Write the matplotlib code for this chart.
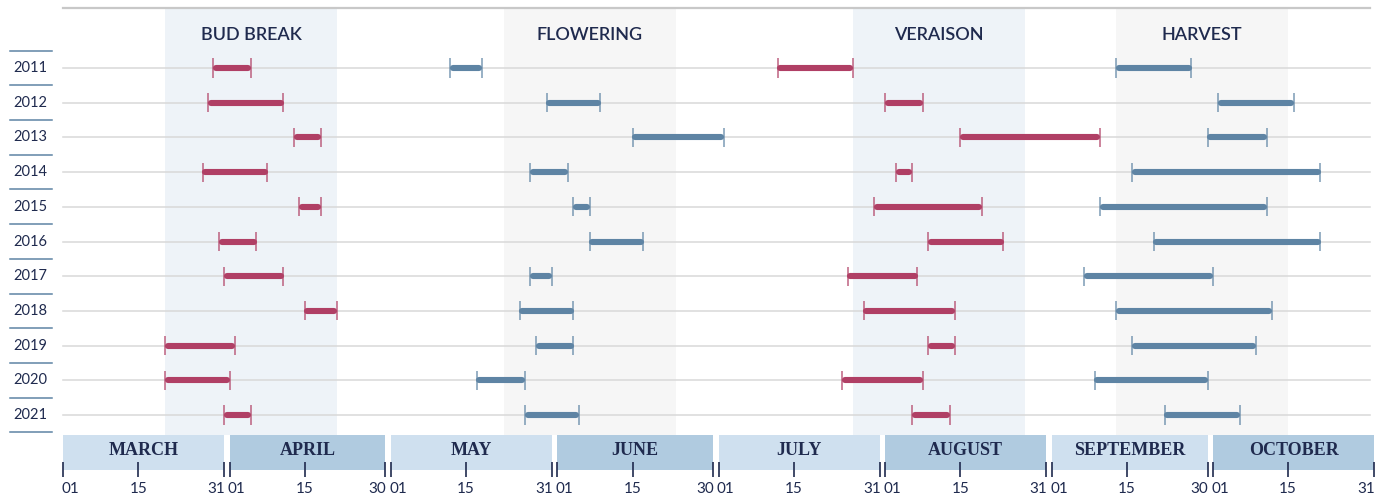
import pandas as pd
import matplotlib.pyplot as plt
from matplotlib.patches import Rectangle

# phenology dates (month-day), one tuple (start, end) per year
years = [2011, 2012, 2013, 2014, 2015, 2016, 2017, 2018, 2019, 2020, 2021]
bud_break = [("03-29", "04-05"), ("03-28", "04-11"), ("04-13", "04-18"), ("03-27", "04-08"),
             ("04-14", "04-18"), ("03-30", "04-06"), ("03-31", "04-11"), ("04-15", "04-21"),
             ("03-20", "04-02"), ("03-20", "04-01"), ("03-31", "04-05")]
flowering = [("05-12", "05-18"), ("05-30", "06-09"), ("06-15", "07-02"), ("05-27", "06-03"),
             ("06-04", "06-07"), ("06-07", "06-17"), ("05-27", "05-31"), ("05-25", "06-04"),
             ("05-28", "06-04"), ("05-17", "05-26"), ("05-26", "06-05")]
veraison = [("07-12", "07-26"), ("08-01", "08-08"), ("08-15", "09-10"), ("08-03", "08-06"),
            ("07-30", "08-19"), ("08-09", "08-23"), ("07-25", "08-07"), ("07-28", "08-14"),
            ("08-09", "08-14"), ("07-24", "08-08"), ("08-06", "08-13")]
harvest = [("09-13", "09-27"), ("10-02", "10-16"), ("09-30", "10-11"), ("09-16", "10-21"),
           ("09-10", "10-11"), ("09-20", "10-21"), ("09-07", "10-01"), ("09-13", "10-12"),
           ("09-16", "10-09"), ("09-09", "09-30"), ("09-22", "10-06")]

phases = ["BUD BREAK", "FLOWERING", "VERAISON", "HARVEST"]
phase_windows = [("03-20", "04-21"), ("05-22", "06-23"), ("07-26", "08-27"), ("09-13", "10-15")]

months = ["MARCH", "APRIL", "MAY", "JUNE", "JULY", "AUGUST", "SEPTEMBER", "OCTOBER"]
month_days = [31, 30, 31, 30, 31, 31, 30, 31]

NAVY = "#1f2a4e"
RED = "#b03f65"
BLUE = "#5e84a4"


def day(s):
    return (pd.Timestamp("2021-" + s) - pd.Timestamp("2021-03-01")).days


plt.rcParams['font.family'] = ['Lato', 'DejaVu Sans']

fig = plt.figure(figsize=(13.87, 4.99), dpi=100)
ax = fig.add_axes([0, 0, 1, 1])
ax.axis('off')
ax.set_xlim(-11.725, 246.4)
ax.set_ylim(12.42, -1.96)

# phase windows + headers
shade = ["#eef3f8", "#f6f6f6", "#eef3f8", "#f6f6f6"]
for (s, e), name, c in zip(phase_windows, phases, shade):
    a, b = day(s), day(e)
    ax.add_patch(Rectangle((a, -1.73), b - a, 12.306, facecolor=c, edgecolor='none', zorder=0))
    ax.text((a + b) / 2, -0.95, name, ha='center', va='center', fontsize=13,
            fontweight=600, color=NAVY)

ax.plot([0, 243.3], [-1.73, -1.73], color="#c8c8c8", lw=1.6, zorder=1)

# rows
for i, yr in enumerate(years):
    ax.plot([0, 243.3], [i, i], color="#d8d8d8", lw=1.1, zorder=1)
    ax.text(-6.1, i, str(yr), ha='center', va='center', fontsize=10.5, color=NAVY)
for i in range(len(years) + 1):
    ax.plot([-9.8, -2.0], [i - 0.5, i - 0.5], color=BLUE, lw=1.1)

for series, col in [(bud_break, RED), (flowering, BLUE), (veraison, RED), (harvest, BLUE)]:
    for i, (s, e) in enumerate(series):
        a, b = day(s), day(e)
        ax.plot([a + 0.5, b - 0.5], [i, i], color=col, lw=4.4, solid_capstyle='round', zorder=3)
        ax.vlines([a, b], i - 0.275, i + 0.275, color=col, lw=1.2, alpha=0.75, zorder=3)

# month band + day ticks
start = 0
for k, (m, n) in enumerate(zip(months, month_days)):
    c = "#cfe0ef" if k % 2 == 0 else "#b0cbe0"
    ax.add_patch(Rectangle((start, 10.576), n - 1, 1.009, facecolor=c, edgecolor='none', zorder=1))
    ax.text(start + (n - 1) / 2, 11.03, m, ha='center', va='center', fontsize=13,
            fontweight='bold', family='Liberation Serif', color=NAVY)
    for d, ha in [(1, 'left'), (15, 'center'), (n, 'right')]:
        x = start + d - 1
        ax.vlines(x, 11.35, 11.79, color=NAVY, lw=1.2, zorder=2)
        ax.text(x + (-0.3 if ha == 'left' else 0.2 if ha == 'right' else 0), 12.12,
                "%02d" % d, ha=ha, va='center', fontsize=11, color=NAVY)
    start += n

fig.savefig("out.png", dpi=100)
